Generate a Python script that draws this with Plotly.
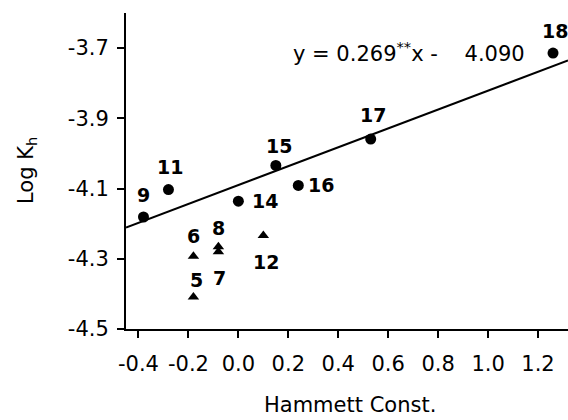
import numpy as np
import plotly.graph_objects as go

# circles (fitted series)
circ_labels = ["9", "11", "14", "15", "16", "17", "18"]
circ_x = [-0.38, -0.28, 0.0, 0.15, 0.24, 0.53, 1.26]
circ_y = [-4.181, -4.103, -4.136, -4.034, -4.091, -3.959, -3.714]

# triangles
tri_labels = ["5", "6", "7", "8", "12"]
tri_x = [-0.18, -0.18, -0.08, -0.08, 0.10]
tri_y = [-4.409, -4.293, -4.280, -4.266, -4.234]

slope = 0.269
intercept = -4.090
x_range = [-0.45, 1.32]
y_range = [-4.5, -3.6]
x_ticks = [-0.4, -0.2, 0.0, 0.2, 0.4, 0.6, 0.8, 1.0, 1.2]
y_ticks = [-4.5, -4.3, -4.1, -3.9, -3.7]

# label pixel offsets (xshift, yshift)
offsets = {
    "9": (0, 22), "11": (2, 23), "14": (27, 0), "15": (3, 19), "16": (23, 0),
    "17": (2, 24), "18": (2, 22), "6": (0, 20), "5": (3, 17), "8": (0, 19),
    "7": (1, -26), "12": (3, -26),
}

FONT = "DejaVu Sans, sans-serif"

fig = go.Figure()
lx = np.array(x_range)
fig.add_trace(go.Scatter(x=lx, y=slope * lx + intercept, mode="lines",
                         line=dict(color="black", width=2), showlegend=False))
fig.add_trace(go.Scatter(x=circ_x, y=circ_y, mode="markers",
                         marker=dict(symbol="circle", size=11, color="black"),
                         showlegend=False))
fig.add_trace(go.Scatter(x=tri_x, y=tri_y, mode="markers",
                         marker=dict(symbol="triangle-up", size=10, color="black"),
                         showlegend=False))

anns = []
for lab, xv, yv in list(zip(circ_labels, circ_x, circ_y)) + list(zip(tri_labels, tri_x, tri_y)):
    dx, dy = offsets[lab]
    anns.append(dict(x=xv, y=yv, xref="x", yref="y", text="<b>%s</b>" % lab,
                     showarrow=False, xshift=dx, yshift=dy,
                     font=dict(family=FONT, size=19, color="black")))

anns.append(dict(x=0.373, y=0.877, xref="paper", yref="paper", xanchor="left", yanchor="middle",
                 text="y = %.3f<sup>**</sup>x -\u00a0\u00a0\u00a0\u00a0%.3f" % (slope, -intercept),
                 showarrow=False, font=dict(family=FONT, size=21, color="black")))
anns.append(dict(x=0.507, y=0, xref="paper", yref="paper", yshift=-76, yanchor="middle",
                 text="Hammett Const.", showarrow=False,
                 font=dict(family=FONT, size=21, color="black")))
anns.append(dict(x=0, y=0.5, xref="paper", yref="paper", xshift=-99, xanchor="center",
                 text="Log K<sub>h</sub>", textangle=-90, showarrow=False,
                 font=dict(family=FONT, size=21, color="black")))

fig.update_layout(
    width=568, height=420,
    margin=dict(l=126, r=0, t=13, b=91),
    paper_bgcolor="white", plot_bgcolor="white",
    annotations=anns,
    xaxis=dict(range=x_range, tickvals=x_ticks, ticktext=["%.1f" % v for v in x_ticks],
               showgrid=False, zeroline=False, showline=True, linecolor="black", linewidth=2,
               ticks="outside", ticklen=7, tickwidth=2, tickcolor="black",
               ticklabelstandoff=8,
               tickfont=dict(family=FONT, size=21, color="black")),
    yaxis=dict(range=y_range, tickvals=y_ticks, ticktext=["%.1f" % v for v in y_ticks],
               showgrid=False, zeroline=False, showline=True, linecolor="black", linewidth=2,
               ticks="outside", ticklen=7, tickwidth=2, tickcolor="black",
               ticklabelstandoff=4,
               tickfont=dict(family=FONT, size=21, color="black")),
)

fig.write_html("out.html")
